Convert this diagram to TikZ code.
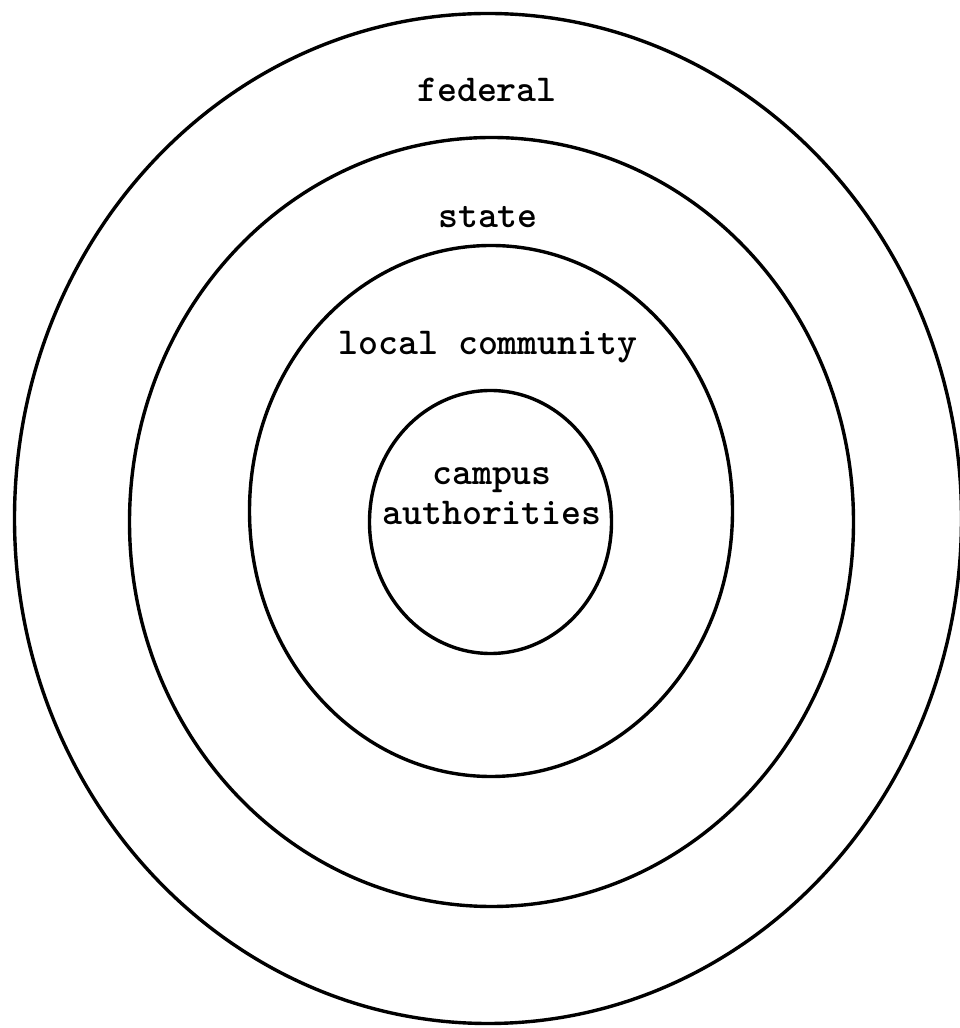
\documentclass[tikz,border=0pt]{standalone}
\usepackage{fontspec}
\usepackage{tikz}
\usetikzlibrary{shapes.geometric, positioning}

\begin{document}
\begin{tikzpicture}[x=1pt, y=1pt,
        ring/.style={ellipse, draw=black, line width=3.4pt, inner sep=0pt},
        ringlabel/.style={anchor=base, align=center, inner sep=0pt, font=\ttfamily\bfseries\fontsize{38}{40}\selectfont}]

        \useasboundingbox (0,0) rectangle (959,1028);

        \node[ring, minimum width=947, minimum height=1010] (federal) at (488,509.5) {};
        \node[ring, minimum width=724, minimum height=769] (state) at (491.5,506) {};
        \node[ring, minimum width=483, minimum height=531] (local) at (491,517) {};
        \node[ring, minimum width=242, minimum height=263] (campus) at (490.5,506) {};

        \node[ringlabel] (lfederal) at (487,926) {federal};
        \node[ringlabel] (lstate) at (488,800) {state};
        \node[ringlabel] (llocal) at (488,673) {local community};
        \node[ringlabel] (lcampus) at (492,503) {campus\\authorities};
    \end{tikzpicture}
\end{document}
